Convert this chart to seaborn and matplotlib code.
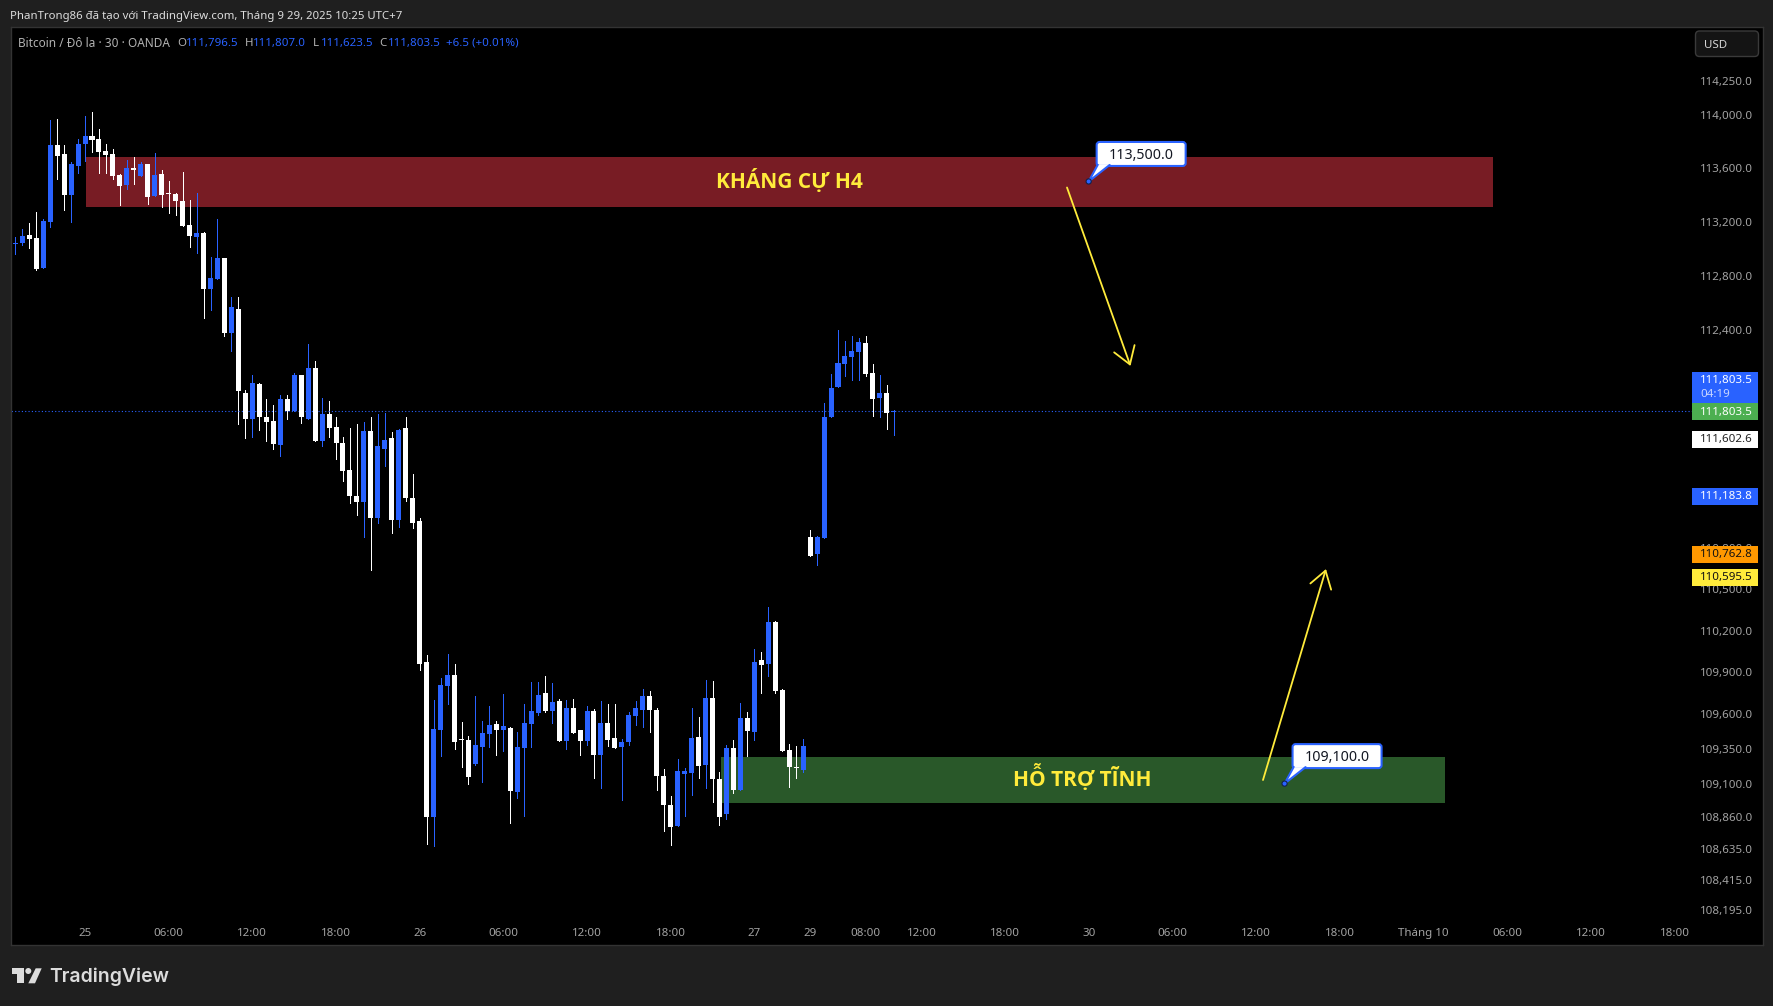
import seaborn as sns
import matplotlib.pyplot as plt
import pandas as pd
from matplotlib.patches import Rectangle, FancyBboxPatch, Polygon, Circle
from matplotlib.ticker import NullLocator

# BTC 30 phut - gia doc tu hinh
highs = [113087,113147,113191,113273,113221,113960,113967,113773,113645,113817,113990,114020,113892,113780,113743,113556,113660,113683,113645,113631,
         113713,113586,113503,113414,113571,113362,113414,113124,112939,113221,112931,112642,112642,111957,112067,112008,111891,111847,111920,111920,
         112082,112067,112296,112171,111898,111876,111759,111612,111679,111708,111722,111759,111781,111788,111649,111671,111759,111341,111020,110026,
         109701,109860,110033,109961,109542,109441,109730,109549,109657,109549,109744,109506,109470,109672,109831,109831,109874,109824,109708,109701,
         109708,109484,109657,109636,109693,109672,109672,109420,109614,109693,109780,109766,109643,109205,109011,109276,109212,109643,109578,109845,
         109838,109183,109377,109413,109679,109614,110069,110048,110373,110272,109780,109384,109370,109420,110932,110889,111860,112074,112399,112317,
         112354,112340,112354,112148,112067,111993,111807]
opens = [113038,113043,113102,113080,112857,113199,113773,113705,113399,113616,113780,113840,113817,113728,113705,113548,113473,113601,113541,113631,
         113391,113556,113411,113406,113354,113176,113087,113117,112701,112776,112931,112377,112554,111935,111744,112001,111759,111730,111554,111891,
         111801,112067,111744,112119,111583,111781,111686,111569,111371,111180,111137,111656,111020,111525,111605,111006,111679,111166,110999,109975,
         108860,109484,109802,109881,109420,109413,109241,109362,109456,109527,109484,109499,109040,109355,109527,109607,109751,109621,109693,109405,
         109643,109484,109405,109621,109305,109534,109427,109362,109398,109585,109628,109730,109628,109154,108947,108796,109169,109176,109434,109233,
         109715,109133,108882,109355,109054,109570,109470,109990,109961,110265,109773,109341,109219,109198,110882,110758,110874,111758,111978,112148,
         112200,112236,112303,112082,111897,111934,111796.5]
closes = [113043,113095,113072,112850,113206,113773,113690,113399,113631,113780,113840,113810,113720,113698,113541,113466,113601,113586,113631,113384,
          113548,113399,113406,113354,113169,113095,113117,112701,112783,112931,112377,112569,111950,111744,112008,111759,111722,111561,111891,111801,
          112067,111759,112119,111583,111781,111679,111569,111363,111180,111137,111656,111020,111547,111590,111006,111664,111166,110984,109961,108860,
          109491,109809,109881,109398,109415,109147,109377,109463,109520,109484,109513,109047,109362,109534,109621,109737,109621,109686,109405,109643,
          109463,109405,109621,109305,109534,109413,109355,109398,109592,109643,109730,109628,109154,108947,108789,109190,109190,109427,109226,109715,
          109133,108860,109355,109054,109570,109477,109975,109954,110265,109766,109334,109219,109214,109370,110743,110882,111758,111971,112155,112207,
          112244,112310,112074,111890,111934,111787,111803.5]
lows = [112964,113028,113006,112842,112857,113161,113518,113288,113199,113563,113653,113720,113563,113563,113518,113325,113444,113481,113541,113332,
        113391,113310,113265,113250,113169,113013,112969,112488,112547,112776,112355,112244,111708,111605,111612,111664,111583,111525,111473,111744,
        111801,111715,111744,111583,111547,111612,111451,111290,111130,111042,110882,110642,110984,111400,110911,110955,111144,110948,109917,108667,
        108653,109298,109672,109348,109219,109097,109233,109111,109362,109305,109334,108817,108997,108868,109362,109592,109614,109534,109405,109348,
        109463,109305,109377,109140,109068,109370,109355,108982,109377,109520,109506,109470,109054,108760,108660,108796,108868,109018,109140,109068,
        108968,108803,108846,109033,109054,109298,109413,109751,109874,109751,109334,109076,109140,109183,110743,110678,110874,111758,111978,112059,
        112030,112030,112059,111765,111758,111670,111623.5]

y_ticks = [114250,114000,113600,113200,112800,112400,110800,110500,110200,109900,109600,109350,109100,108860,108635,108415,108195]
x_bars = [10,22,34,46,58,70,82,94,106,114,122,130,142,154,166,178,190,202,214,226,238]
x_labels = ['25','06:00','12:00','18:00','26','06:00','12:00','18:00','27','29','08:00','12:00','18:00','30','06:00','12:00','18:00','Tháng 10','06:00','12:00','18:00']

last_price = 111803.5
res_zone = (113310, 113683)
sup_zone = (108961, 109291)
res_bars = (10.15, 211.95)
sup_bars = (101.2, 205.05)
res_level = 113500.0
sup_level = 109100.0

BLUE = '#2962FF'
WHITE = '#FFFFFF'
YELLOW = '#FFEB3B'
BG = '#1F1F1F'
W, H = 1773, 1006

sns.set_theme(style='dark')
plt.rcParams['font.family'] = ['Noto Sans', 'DejaVu Sans']
plt.rcParams['axes.unicode_minus'] = False

fig = plt.figure(figsize=(W / 100, H / 100), dpi=100, facecolor=BG)
ax = fig.add_axes([10.5 / W, 1 - 945 / H, (1763 - 10.5) / W, (945 - 27) / H], facecolor='black')

df = pd.DataFrame({'bar': range(len(highs)), 'open': opens, 'high': highs, 'low': lows, 'close': closes})
df['bottom'] = df[['open', 'close']].min(axis=1)
df['body'] = (df['open'] - df['close']).abs().clip(lower=8)
df['up'] = df['close'] >= df['open']

# vung khang cu / ho tro
ax.add_patch(Rectangle((res_bars[0], res_zone[0]), res_bars[1] - res_bars[0], res_zone[1] - res_zone[0], fc='#781C24', ec='none', zorder=1))
ax.add_patch(Rectangle((sup_bars[0], sup_zone[0]), sup_bars[1] - sup_bars[0], sup_zone[1] - sup_zone[0], fc='#295829', ec='none', zorder=1))

for up, color in [(True, BLUE), (False, WHITE)]:
    sub = df[df['up'] == up]
    ax.vlines(sub['bar'], sub['low'], sub['high'], color=color, lw=0.7, zorder=2, antialiased=False)
    sns.barplot(data=sub, x='bar', y='body', bottom=sub['bottom'].values, native_scale=True, orient='x', width=0.72,
                color=color, saturation=1, errorbar=None, ax=ax, linewidth=0, antialiased=False, zorder=3)

ax.hlines(last_price, -1, 240.7, color=BLUE, lw=0.8, linestyle=(0, (1, 2)), zorder=2)

ax.set_yscale('log')
ax.set_ylim(107950, 114657)
ax.set_xlim(-0.688, 250.67)
ax.set_xlabel('')
ax.set_ylabel('')
ax.yaxis.tick_right()
ax.yaxis.set_minor_locator(NullLocator())
ax.set_yticks(y_ticks, [f'{v:,.1f}' for v in y_ticks], ha='right', color='#A3A3A3', fontsize=8.3)
ax.set_xticks(x_bars, x_labels, color='#A3A3A3', fontsize=8.3)
ax.tick_params(axis='y', length=0, pad=-7.4)
ax.tick_params(axis='x', length=0, pad=-12.2)
ax.get_xticklabels()[17].set_fontweight('bold')
for s in ax.spines.values():
    s.set_color('#333333')
    s.set_linewidth(1)
ax.grid(False)

# lop phu theo toa do pixel cua anh
ov = fig.add_axes([0, 0, 1, 1], zorder=5)
ov.set_xlim(0, W)
ov.set_ylim(H, 0)
ov.axis('off')

def to_px(bar, price):
    px, py = ax.transData.transform((bar, price))
    return px, H - py

ov.text(10, 16, 'PhanTrong86 đã tạo với TradingView.com, Tháng 9 29, 2025 10:25 UTC+7', color='#DDDDDD', fontsize=8.2, va='center')
ov.text(18, 43, 'Bitcoin / Đô la · 30 · OANDA', color='#B2B2B2', fontsize=8.5, va='center')
legend_bits = [(177, 'O', '#B2B2B2'), (186, '111,796.5', BLUE), (245, 'H', '#B2B2B2'), (253, '111,807.0', BLUE), (313, 'L', '#B2B2B2'),
               (321, '111,623.5', BLUE), (379, 'C', '#B2B2B2'), (388, '111,803.5', BLUE), (446, '+6.5 (+0.01%)', BLUE)]
for x, s, c in legend_bits:
    ov.text(x, 43, s, color=c, fontsize=8.3, va='center')

# o USD
ov.add_patch(FancyBboxPatch((1695.5, 31), 63, 25.5, boxstyle='round,pad=0,rounding_size=4', fc='#141414', ec='#3A3A3A', lw=1))
ov.text(1704, 45, 'USD', color='#D6D6D6', fontsize=8.3, va='center')

# nhan gia ben phai
price_tags = [(111602.6, WHITE, '#222222'), (111183.8, BLUE, WHITE), (110762.8, '#FF9800', '#111111'), (110595.5, YELLOW, '#111111')]
ov.add_patch(Rectangle((1692, 372), 65.7, 31, fc=BLUE, ec='none'))
ov.text(1752.7, 381, '111,803.5', color=WHITE, fontsize=8.3, ha='right', va='center', fontweight='medium')
ov.text(1700, 394.5, '04:19', color='#C9D6FF', fontsize=8.3, va='center')
_, y_last = to_px(0, last_price)
ov.add_patch(Rectangle((1692, y_last - 8), 65.7, 17.5, fc='#4CAF50', ec='none'))
ov.text(1752.7, y_last + 1.2, '111,803.5', color=WHITE, fontsize=8.3, ha='right', va='center')
for value, fc, tc in price_tags:
    _, yy = to_px(0, value)
    ov.add_patch(Rectangle((1692, yy - 7.5), 65.7, 17, fc=fc, ec='none'))
    ov.text(1752.7, yy + 1.2, f'{value:,.1f}', color=tc, fontsize=8.3, ha='right', va='center')

# chu trong vung
ov.text(789, 181, 'KHÁNG CỰ H4', color=YELLOW, fontsize=15, family='Open Sans', fontweight='bold', ha='center', va='center')
ov.text(1082, 777.5, 'HỖ TRỢ TĨNH', color=YELLOW, fontsize=15, family='Open Sans', fontweight='bold', ha='center', va='center')

# mui ten
for start, tip in [((1067, 187.5), (1130.5, 366)), ((1263, 780), (1326, 569))]:
    ov.annotate('', xy=tip, xytext=start, arrowprops=dict(arrowstyle='->,head_length=1.0,head_width=0.65', color=YELLOW, lw=1.3, shrinkA=0, shrinkB=0))

# callout gia
for bar, price in [(153.95, res_level), (182.05, sup_level)]:
    ax_px, ay_px = to_px(bar, price)
    left, top = ax_px + 8, ay_px - 39.5
    ov.add_patch(FancyBboxPatch((left, top), 89, 24, boxstyle='round,pad=0,rounding_size=3', fc=WHITE, ec=BLUE, lw=1.5))
    p1, p2 = (left + 1, top + 23), (left + 13, top + 23)
    ov.add_patch(Polygon([p1, p2, (ax_px, ay_px)], fc=WHITE, ec='none', zorder=3))
    ov.plot([p1[0], ax_px, p2[0]], [p1[1], ay_px, p2[1]], color=BLUE, lw=1.5, zorder=3)
    ov.add_patch(Circle((ax_px, ay_px), 2.6, fc=BLUE, ec='#10204A', lw=0.8, zorder=4))
    ov.text(left + 44.5, top + 13.5, f'{price:,.1f}', color='#131722', fontsize=10.2, ha='center', va='center', zorder=4)

# logo
LOGO = '#DCDCDC'
ov.add_patch(Polygon([(12, 968.3), (24, 968.3), (24, 983.3), (17.3, 983.3), (17.3, 974), (12, 974)], fc=LOGO, ec='none'))
ov.add_patch(Circle((28.3, 971), 3, fc=LOGO, ec='none'))
ov.add_patch(Polygon([(35.7, 968.3), (41.7, 968.3), (35, 983.3), (28.3, 983.3)], fc=LOGO, ec='none'))
ov.text(49, 977, 'TradingView', color=LOGO, fontsize=14, family='Inter', fontweight='semibold', va='center')

fig.savefig('out.png', dpi=100, facecolor=fig.get_facecolor())
